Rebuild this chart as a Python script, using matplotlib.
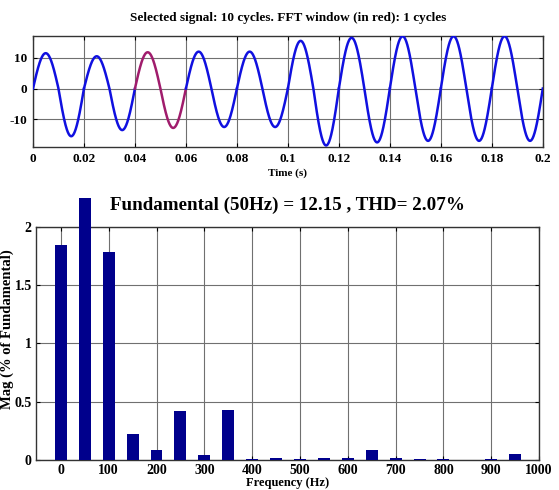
import numpy as np
import matplotlib
matplotlib.use('Agg')
import matplotlib.pyplot as plt

plt.rcParams['font.family'] = ['Liberation Serif', 'DejaVu Serif']
plt.rcParams['font.weight'] = 'bold'
plt.rcParams['axes.unicode_minus'] = False

# peak (+) and trough (-) of each of the 10 cycles
pos_peaks = [11.5, 10.5, 11.8, 12.0, 12.0, 15.5, 16.5, 17.0, 17.0, 17.0]
neg_peaks = [-15.5, -13.5, -12.8, -12.5, -12.5, -18.5, -17.5, -17.0, -17.0, -17.0]
f0 = 50.0
fft_cycle = 2  # third cycle (0.04 - 0.06 s) drawn in red

# harmonic spectrum (% of fundamental), 0..950 Hz step 50
freqs = [0, 50, 100, 150, 200, 250, 300, 350, 400, 450,
         500, 550, 600, 650, 700, 750, 800, 850, 900, 950]
mags = [1.84, 2.25, 1.78, 0.22, 0.09, 0.42, 0.04, 0.43, 0.012, 0.02,
        0.008, 0.02, 0.015, 0.09, 0.015, 0.012, 0.006, 0.004, 0.006, 0.05]

fig = plt.figure(figsize=(5.59, 4.9), dpi=100)

# ---- top: time signal ----
ax1 = fig.add_axes([0.059, 0.700, 0.912, 0.226])
T = 1 / f0
for k in range(len(pos_peaks)):
    th = np.linspace(0, 1, 200)
    t = k * T + th * T
    s = np.sin(2 * np.pi * th)
    y = np.where(s >= 0, s * pos_peaks[k], -s * neg_peaks[k])
    c = '#a01c6c' if k == fft_cycle else '#1010e0'
    ax1.plot(t, y, color=c, lw=1.8, zorder=3)

ax1.set_xlim(0, 0.2)
ax1.set_ylim(-19, 17)
ax1.set_xticks(np.arange(0, 0.201, 0.02))
ax1.set_xticklabels(['0', '0.02', '0.04', '0.06', '0.08', '0.1', '0.12',
                     '0.14', '0.16', '0.18', '0.2'])
ax1.set_yticks([-10, 0, 10])
ax1.grid(True, color='#707070', lw=0.8)
ax1.tick_params(direction='in', length=3, labelsize=9.5, top=True, right=True, pad=4)
ax1.set_title('Selected signal: 10 cycles. FFT window (in red): 1 cycles',
              fontsize=9.5, fontweight='bold', pad=11)
ax1.set_xlabel('Time (s)', fontsize=8, fontweight='bold', labelpad=3)

# ---- bottom: spectrum ----
ax2 = fig.add_axes([0.0644, 0.0612, 0.900, 0.476])
ax2.bar(freqs, mags, width=25, color='#00008c', zorder=3, clip_on=False)
ax2.set_xlim(-52, 1000)
ax2.set_ylim(0, 2)
ax2.set_xticks(range(0, 1001, 100))
ax2.set_yticks([0, 0.5, 1, 1.5, 2])
ax2.set_yticklabels(['0', '0.5', '1', '1.5', '2'])
ax2.grid(True, color='#707070', lw=0.8)
ax2.tick_params(direction='in', length=3, labelsize=10, top=True, right=True, pad=3)
ax2.set_title('Fundamental (50Hz) = 12.15 , THD= 2.07%',
              fontsize=13.7, fontweight='bold', pad=12)
ax2.set_xlabel('Frequency (Hz)', fontsize=9, fontweight='bold', labelpad=0)
ax2.set_ylabel('Mag (% of Fundamental)', fontsize=10.5, fontweight='bold')
ax2.yaxis.set_label_coords(-0.044, 0.56)

for a in (ax1, ax2):
    for sp in a.spines.values():
        sp.set_color('#333333')
        sp.set_linewidth(1.0)

fig.savefig('out.png', dpi=100)
